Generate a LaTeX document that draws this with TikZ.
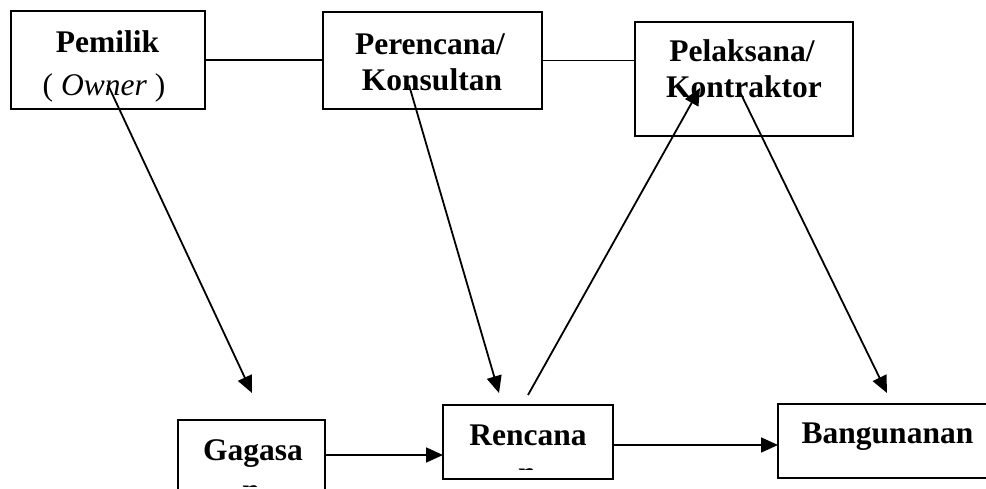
\documentclass[tikz,border=0pt]{standalone}
\usepackage{fontspec}
\setmainfont{Liberation Serif}
\usetikzlibrary{arrows.meta}
\begin{document}
\begin{tikzpicture}[x=1pt,y=-1pt,
  boxnode/.style={draw,line width=2pt,rectangle,inner sep=0pt,outer sep=0pt},
  txt/.style={anchor=base,inner sep=0pt,font=\fontsize{31.5}{36}\selectfont\bfseries},
  link/.style={line width=1.8pt},
  flow/.style={line width=1.8pt,-{Triangle[length=17pt,width=15pt]}}]
\useasboundingbox (0,0) rectangle (986,489);
\clip (0,0) rectangle (986,489);

% boxes
\node[boxnode,minimum width=194pt,minimum height=98pt]  (pem) at (108,60)    {};
\node[boxnode,minimum width=219pt,minimum height=97pt]  (per) at (432.5,60.5) {};
\node[boxnode,minimum width=218pt,minimum height=114pt] (pel) at (744,79)    {};
\node[boxnode,minimum width=147pt,minimum height=100pt] (gag) at (251.5,470) {};
\node[boxnode,minimum width=170pt,minimum height=74pt]  (ren) at (528,442)   {};
\node[boxnode,minimum width=222pt,minimum height=74pt]  (ban) at (889,441)   {};

% box texts
\node[txt] (pemA) at (107.5,53) {Pemilik};
\node[txt,font=\fontsize{31.5}{36}\selectfont] (pemB) at (104,96) {( \textit{Owner} )};
\node[txt] (perA) at (430,55) {Perencana/};
\node[txt] (perB) at (432,90.5) {Konsultan};
\node[txt] (pelA) at (742,61.5) {Pelaksana/};
\node[txt] (pelB) at (744,98) {Kontraktor};
\node[txt] (gagA) at (253,460) {Gagasa};
\node[txt] (renA) at (528,445) {Rencana};
\node[txt] (banA) at (887.5,443) {Bangunanan};

% second lines cut off by the text frames
\begin{scope}
  \clip (443,458) rectangle (613,469.5);
  \node[txt] (renB) at (527,483) {n};
\end{scope}
\begin{scope}
  \clip (178,472) rectangle (325,486);
  \node[txt] (gagB) at (251,500) {n};
\end{scope}

% end points of the slanted connectors
\coordinate (pemS) at (108,85);
\coordinate (gagT) at (252,393);
\coordinate (perS) at (409,85);
\coordinate (renT) at (499,393);
\coordinate (renS) at (528,395);
\coordinate (pelT) at (700,88);
\coordinate (pelS) at (738,88);
\coordinate (banT) at (887,393);
\coordinate (g2r) at (0,455);
\coordinate (r2b) at (0,445);

% connectors
\draw[link] (pem.east) -- (pem.east -| per.west);
\draw[link] (per.east) -- (per.east -| pel.west);
\draw[flow] (pemS) -- (gagT);
\draw[flow] (perS) -- (renT);
\draw[flow] (renS) -- (pelT);
\draw[flow] (pelS) -- (banT);
\draw[flow] (g2r -| gag.east) -- (g2r -| ren.west);
\draw[flow] (r2b -| ren.east) -- (r2b -| ban.west);
\end{tikzpicture}
\end{document}
